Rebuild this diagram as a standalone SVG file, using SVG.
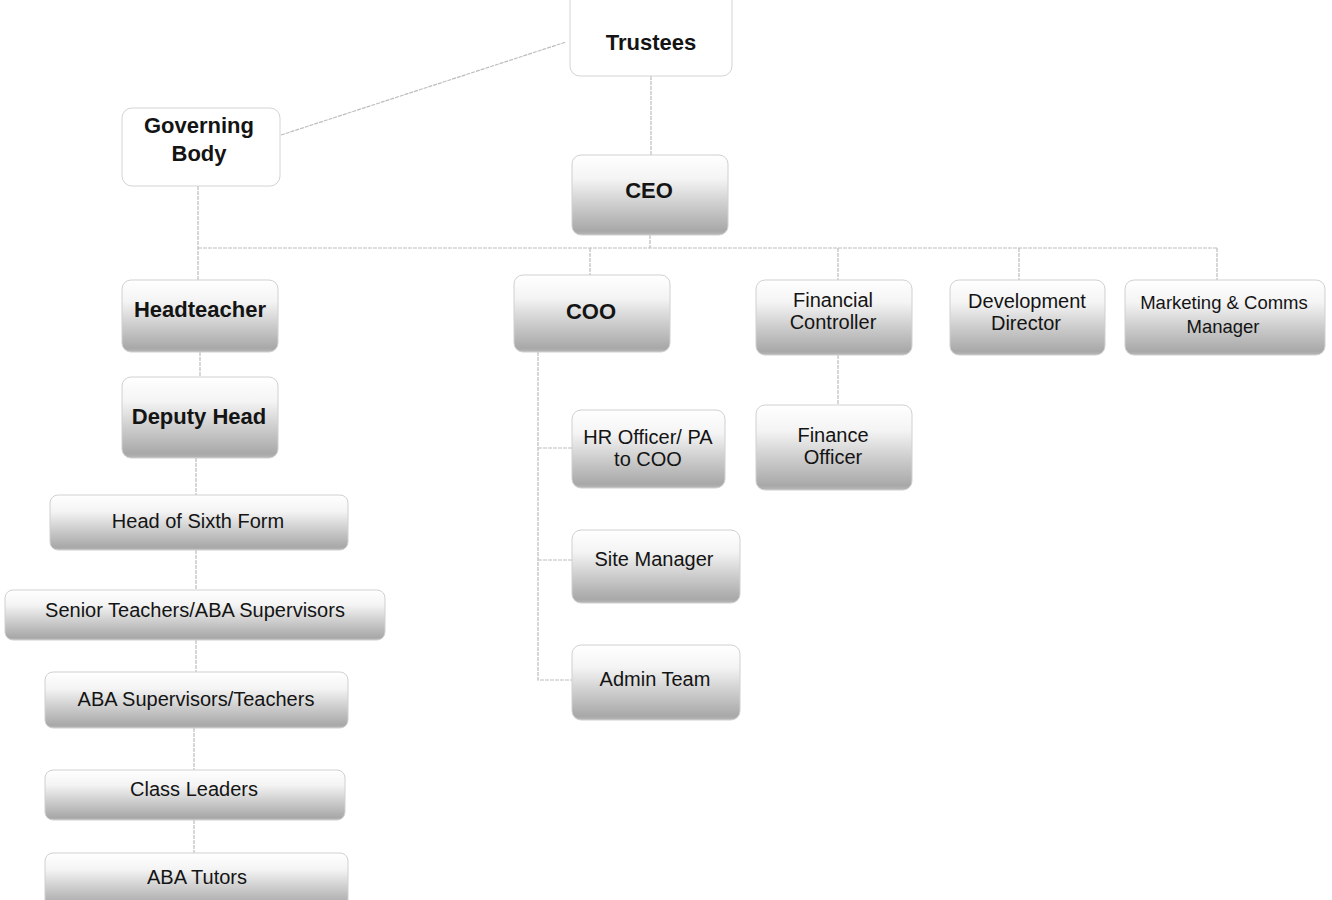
<svg xmlns="http://www.w3.org/2000/svg" width="1332" height="900" viewBox="0 0 1332 900">
<defs>
<linearGradient id="g" x1="0" y1="0" x2="0" y2="1">
<stop offset="0" stop-color="#ffffff"/>
<stop offset="0.3" stop-color="#f4f4f4"/>
<stop offset="0.6" stop-color="#d0d0d0"/>
<stop offset="0.95" stop-color="#a8a8a8"/>
<stop offset="1" stop-color="#b8b8b8"/>
</linearGradient>
<style>
.b{fill:url(#g);stroke:#d0d0d0;stroke-width:1}
.w{fill:#ffffff;stroke:#d4d4d4;stroke-width:1}
.c{fill:none;stroke:#bdbdbd;stroke-width:1.2;stroke-dasharray:4 1}
text{font-family:"Liberation Sans",Arial,sans-serif;fill:#141414;text-anchor:middle}
.bd{font-weight:bold;font-size:22px}
.r{font-size:20px}
.s{font-size:18.5px}
</style>
</defs>
<rect width="1332" height="900" fill="#ffffff"/>
<g id="connectors">
<line class="c" x1="281" y1="135" x2="566" y2="42"/>
<line class="c" x1="651" y1="76" x2="651" y2="155"/>
<line class="c" x1="650" y1="235" x2="650" y2="248"/>
<line class="c" x1="198" y1="186" x2="198" y2="280"/>
<line class="c" x1="198" y1="248" x2="1217" y2="248"/>
<line class="c" x1="590" y1="248" x2="590" y2="275"/>
<line class="c" x1="838" y1="248" x2="838" y2="280"/>
<line class="c" x1="1019" y1="248" x2="1019" y2="280"/>
<line class="c" x1="1217" y1="248" x2="1217" y2="280"/>
<line class="c" x1="200" y1="352" x2="200" y2="377"/>
<line class="c" x1="196" y1="458" x2="196" y2="495"/>
<line class="c" x1="196" y1="550" x2="196" y2="590"/>
<line class="c" x1="196" y1="640" x2="196" y2="672"/>
<line class="c" x1="194" y1="728" x2="194" y2="770"/>
<line class="c" x1="194" y1="820" x2="194" y2="853"/>
<polyline class="c" points="538,352 538,680 572,680"/>
<line class="c" x1="538" y1="448" x2="572" y2="448"/>
<line class="c" x1="538" y1="560" x2="572" y2="560"/>
<line class="c" x1="838" y1="355" x2="838" y2="405"/>
</g>
<g id="trustees"><rect class="w" x="570" y="-10" width="162" height="86" rx="10"/><text class="bd" x="651" y="50">Trustees</text></g>
<g id="governing-body"><rect class="w" x="122" y="108" width="158" height="78" rx="10"/><text class="bd" x="199" y="133">Governing</text><text class="bd" x="199" y="161">Body</text></g>
<g id="ceo"><rect class="b" x="572" y="155" width="156" height="80" rx="9"/><text class="bd" x="649" y="198">CEO</text></g>
<g id="headteacher"><rect class="b" x="122" y="280" width="156" height="72" rx="9"/><text class="bd" x="200" y="317">Headteacher</text></g>
<g id="deputy-head"><rect class="b" x="122" y="377" width="156" height="81" rx="9"/><text class="bd" x="199" y="424">Deputy Head</text></g>
<g id="head-sixth"><rect class="b" x="50" y="495" width="298" height="55" rx="8"/><text class="r" x="198" y="528">Head of Sixth Form</text></g>
<g id="senior-teachers"><rect class="b" x="5" y="590" width="380" height="50" rx="8"/><text class="r" x="195" y="617">Senior Teachers/ABA Supervisors</text></g>
<g id="aba-supervisors"><rect class="b" x="45" y="672" width="303" height="56" rx="8"/><text class="r" x="196" y="706">ABA Supervisors/Teachers</text></g>
<g id="class-leaders"><rect class="b" x="45" y="770" width="300" height="50" rx="8"/><text class="r" x="194" y="796">Class Leaders</text></g>
<g id="aba-tutors"><rect class="b" x="45" y="853" width="303" height="55" rx="8"/><text class="r" x="197" y="884">ABA Tutors</text></g>
<g id="coo"><rect class="b" x="514" y="275" width="156" height="77" rx="9"/><text class="bd" x="591" y="319">COO</text></g>
<g id="hr-officer"><rect class="b" x="572" y="410" width="153" height="78" rx="9"/><text class="r" x="648" y="444">HR Officer/ PA</text><text class="r" x="648" y="466">to COO</text></g>
<g id="site-manager"><rect class="b" x="572" y="530" width="168" height="73" rx="9"/><text class="r" x="654" y="566">Site Manager</text></g>
<g id="admin-team"><rect class="b" x="572" y="645" width="168" height="75" rx="9"/><text class="r" x="655" y="686">Admin Team</text></g>
<g id="financial-controller"><rect class="b" x="756" y="280" width="156" height="75" rx="9"/><text class="r" x="833" y="307">Financial</text><text class="r" x="833" y="329">Controller</text></g>
<g id="finance-officer"><rect class="b" x="756" y="405" width="156" height="85" rx="9"/><text class="r" x="833" y="442">Finance</text><text class="r" x="833" y="464">Officer</text></g>
<g id="development-director"><rect class="b" x="950" y="280" width="155" height="75" rx="9"/><text class="r" x="1027" y="308">Development</text><text class="r" x="1026" y="330">Director</text></g>
<g id="marketing-manager"><rect class="b" x="1125" y="280" width="200" height="75" rx="9"/><text class="s" x="1224" y="309">Marketing &amp; Comms</text><text class="s" x="1223" y="333">Manager</text></g>
</svg>
